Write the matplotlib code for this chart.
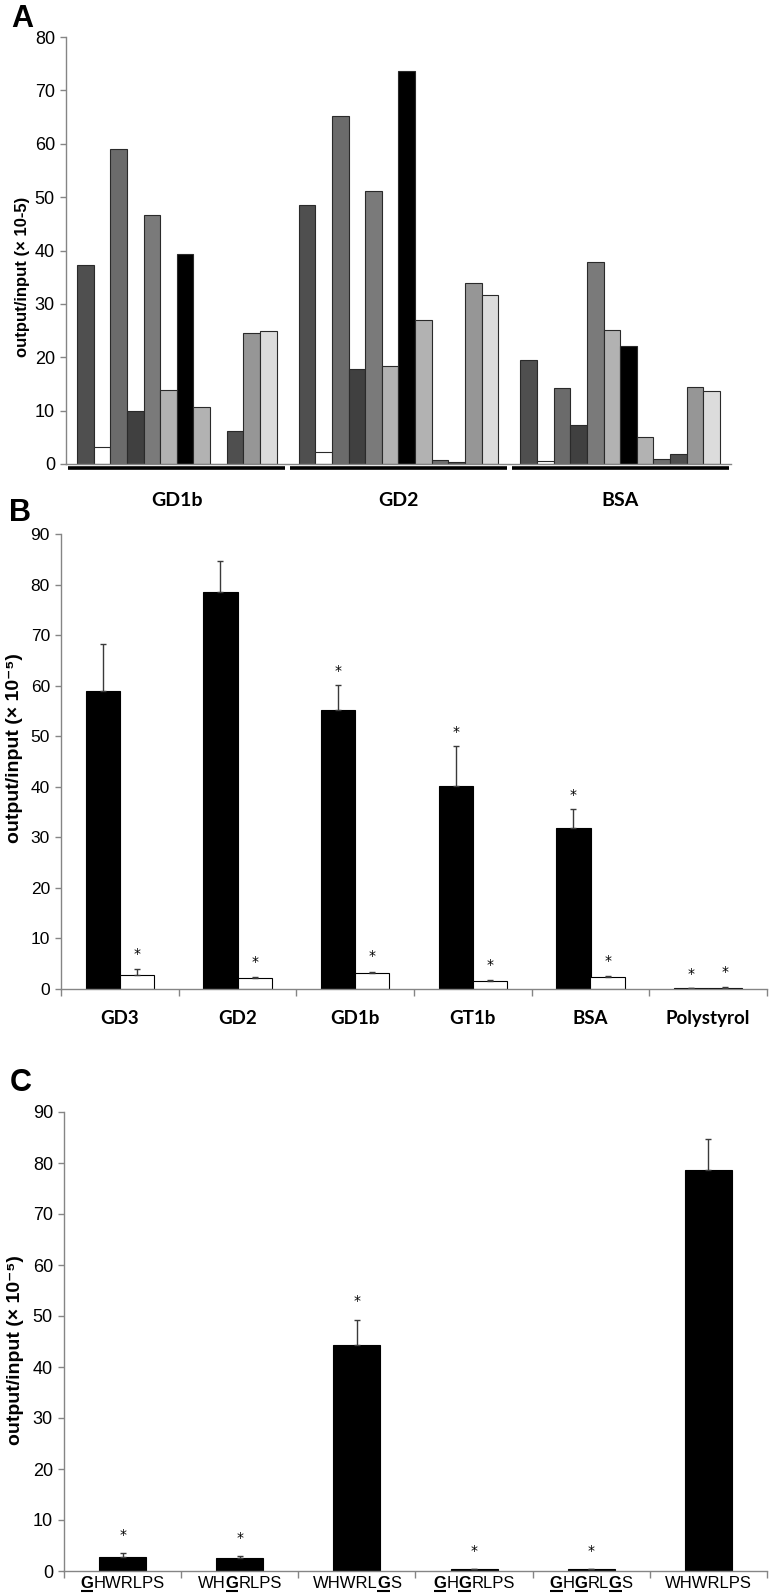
import numpy as np
import matplotlib
matplotlib.use("Agg")
import matplotlib.pyplot as plt

plt.rcParams['font.family'] = ['Liberation Sans', 'DejaVu Sans']

# ---- panel A: 12 clones per target ----
a_groups = ["GD1b", "GD2", "BSA"]
a_values = [
    [37.3, 3.2, 59.0, 10.0, 46.7, 13.8, 39.4, 10.6, 0.0, 6.1, 24.6, 24.9],   # GD1b
    [48.5, 2.2, 65.2, 17.8, 51.2, 18.4, 73.6, 27.0, 0.7, 0.4, 33.9, 31.7],   # GD2
    [19.4, 0.6, 14.3, 7.3, 37.9, 25.1, 22.1, 5.1, 0.9, 1.9, 14.4, 13.7],     # BSA
]
a_colors = ["#4f4f4f", "#ffffff", "#6b6b6b", "#404040", "#7a7a7a", "#b2b2b2",
            "#000000", "#b2b2b2", "#6e6e6e", "#4f4f4f", "#969696", "#dcdcdc"]

# ---- panel B ----
b_cats = ["GD3", "GD2", "GD1b", "GT1b", "BSA", "Polystyrol"]
b_black = [59.0, 78.6, 55.1, 40.1, 31.9, 0.15]
b_black_sd = [9.2, 6.0, 5.0, 8.0, 3.8, 0.0]
b_white = [2.8, 2.2, 3.2, 1.5, 2.4, 0.25]
b_white_sd = [1.1, 0.1, 0.25, 0.2, 0.1, 0.05]
b_black_sig = [False, False, True, True, True, True]
b_white_sig = [True, True, True, True, True, True]

# ---- panel C ----
c_cats = ["GHWRLPS", "WHGRLPS", "WHWRLGS", "GHGRLPS", "GHGRLGS", "WHWRLPS"]
c_vals = [2.8, 2.5, 44.3, 0.3, 0.4, 78.6]
c_sd = [0.8, 0.45, 5.0, 0.0, 0.05, 6.1]
c_sig = [True, True, True, True, True, False]

W, H = 772, 1596
fig = plt.figure(figsize=(W / 100, H / 100), dpi=100)


def px_axes(l, t, r, b):
    return fig.add_axes([l / W, 1 - b / H, (r - l) / W, (b - t) / H])


def style_axes(ax, tick_size):
    for s in ['top', 'right']:
        ax.spines[s].set_visible(False)
    for s in ['left', 'bottom']:
        ax.spines[s].set_color('#858585')
        ax.spines[s].set_linewidth(1.0)
    ax.tick_params(axis='y', direction='out', length=4, width=1, color='#858585',
                   labelsize=tick_size, pad=4)


cat_font = dict(family=['Lato', 'DejaVu Sans'], weight='bold')

# ================= A =================
axA = px_axes(66, 37, 731, 464)
style_axes(axA, 13)
n = len(a_colors)
bw = 0.9 / n
xg = np.arange(len(a_groups))
for k in range(n):
    vals = [a_values[g][k] for g in range(len(a_groups))]
    axA.bar(xg - 0.45 + bw * (k + 0.5), vals, width=bw, color=a_colors[k],
            edgecolor='#2a2a2a', linewidth=0.8)
axA.set_xlim(-0.5, len(a_groups) - 0.5)
axA.set_ylim(0, 80)
axA.set_yticks(np.arange(0, 81, 10))
axA.set_xticks(xg)
axA.set_xticklabels(a_groups, fontsize=14, **cat_font)
axA.tick_params(axis='x', length=0, pad=20)
# thick black segments under each group
for g in xg:
    axA.plot([g - 0.49, g + 0.49], [-0.01, -0.01], color='black', lw=2.6,
             transform=axA.get_xaxis_transform(), clip_on=False, solid_capstyle='butt')
fig.text(23 / W, 1 - 277 / H, "output/input (× 10-5)", rotation=90, ha='center',
         va='center', fontsize=12, weight='bold')
fig.text(11 / W, 1 - 27 / H, "A", fontsize=22, weight='bold', va='baseline')

# ================= B =================
axB = px_axes(61, 534, 767, 989)
style_axes(axB, 12.5)
xb = np.arange(len(b_cats))
bbw = 0.29
err_kw = dict(ecolor='#3a3a3a', elinewidth=1, capsize=2, capthick=1)
axB.bar(xb - bbw / 2, b_black, width=bbw, color='black', edgecolor='black', linewidth=0.8,
        yerr=[np.zeros(len(xb)), b_black_sd], error_kw=err_kw)
axB.bar(xb + bbw / 2, b_white, width=bbw, color='white', edgecolor='black', linewidth=0.8,
        yerr=[np.zeros(len(xb)), b_white_sd], error_kw=err_kw)
for i in range(len(xb)):
    if b_black_sig[i]:
        axB.annotate('*', (xb[i] - bbw / 2, b_black[i] + b_black_sd[i]), xytext=(0, 5),
                     textcoords='offset points', ha='center', va='bottom', fontsize=10,
                     family=['DejaVu Sans'])
    if b_white_sig[i]:
        axB.annotate('*', (xb[i] + bbw / 2, b_white[i] + b_white_sd[i]), xytext=(0, 6),
                     textcoords='offset points', ha='center', va='bottom', fontsize=10,
                     family=['DejaVu Sans'])
axB.set_xlim(-0.5, len(b_cats) - 0.5)
axB.set_ylim(0, 90)
axB.set_yticks(np.arange(0, 91, 10))
axB.set_xticks(xb)
axB.set_xticklabels(b_cats, fontsize=13.5, **cat_font)
axB.tick_params(axis='x', which='major', length=0, pad=15)
axB.set_xticks(np.arange(-0.5, len(b_cats)), minor=True)
axB.tick_params(axis='x', which='minor', direction='out', length=5, width=1, color='#858585')
fig.text(15 / W, 1 - 748 / H, "output/input (× 10⁻⁵)", rotation=90, ha='center',
         va='center', fontsize=14, weight='bold')
fig.text(9 / W, 1 - 521 / H, "B", fontsize=22, weight='bold', va='baseline')

# ================= C =================
axC = px_axes(64, 1112, 767, 1571)
style_axes(axC, 13)
xc = np.arange(len(c_cats))
axC.bar(xc, c_vals, width=0.4, color='black', edgecolor='black', linewidth=0.8,
        yerr=[np.zeros(len(xc)), c_sd], error_kw=err_kw)
for i in range(len(xc)):
    if c_sig[i]:
        axC.annotate('*', (xc[i], c_vals[i] + c_sd[i]), xytext=(0, 8),
                     textcoords='offset points', ha='center', va='bottom', fontsize=10,
                     family=['DejaVu Sans'])
axC.set_xlim(-0.5, len(c_cats) - 0.5)
axC.set_ylim(0, 90)
axC.set_yticks(np.arange(0, 91, 10))
axC.set_xticks([])
axC.set_xticks(np.arange(-0.5, len(c_cats)), minor=True)
axC.tick_params(axis='x', which='minor', direction='out', length=5, width=1, color='#858585')
fig.text(16 / W, 1 - 1350 / H, "output/input (× 10⁻⁵)", rotation=90, ha='center',
         va='center', fontsize=14, weight='bold')
fig.text(10 / W, 1 - 1091 / H, "C", fontsize=22, weight='bold', va='baseline')

# sequence labels with bold, underlined G substitutions
renderer = fig.canvas.get_renderer()
lab_size = 12
ax_h_px = 1571 - 1112
base_y = -17 / ax_h_px
under_y = -20 / ax_h_px
px_per_unit = (767 - 64) / len(c_cats)


def text_w(s, bold):
    t = axC.text(0, 0, s, fontsize=lab_size, weight='bold' if bold else 'normal')
    w = t.get_window_extent(renderer).width
    t.remove()
    return w


def advance(s, bold):
    return text_w("|" + s + "|", bold) - text_w("||", bold)


for i, lab in enumerate(c_cats):
    runs = []
    for ch in lab:
        b = ch == 'G'
        if runs and runs[-1][1] == b and not b:
            runs[-1][0] += ch
        else:
            runs.append([ch, b])
    advs = [advance(s, b) for s, b in runs]
    x = xc[i] - sum(advs) / px_per_unit / 2
    for (s, b), a in zip(runs, advs):
        axC.text(x, base_y, s, fontsize=lab_size, weight='bold' if b else 'normal',
                 ha='left', va='baseline', transform=axC.get_xaxis_transform(), clip_on=False)
        if b:
            axC.plot([x, x + a / px_per_unit], [under_y, under_y], color='black', lw=1.5,
                     transform=axC.get_xaxis_transform(), clip_on=False, solid_capstyle='butt')
        x += a / px_per_unit

fig.savefig("out.png", dpi=100)
